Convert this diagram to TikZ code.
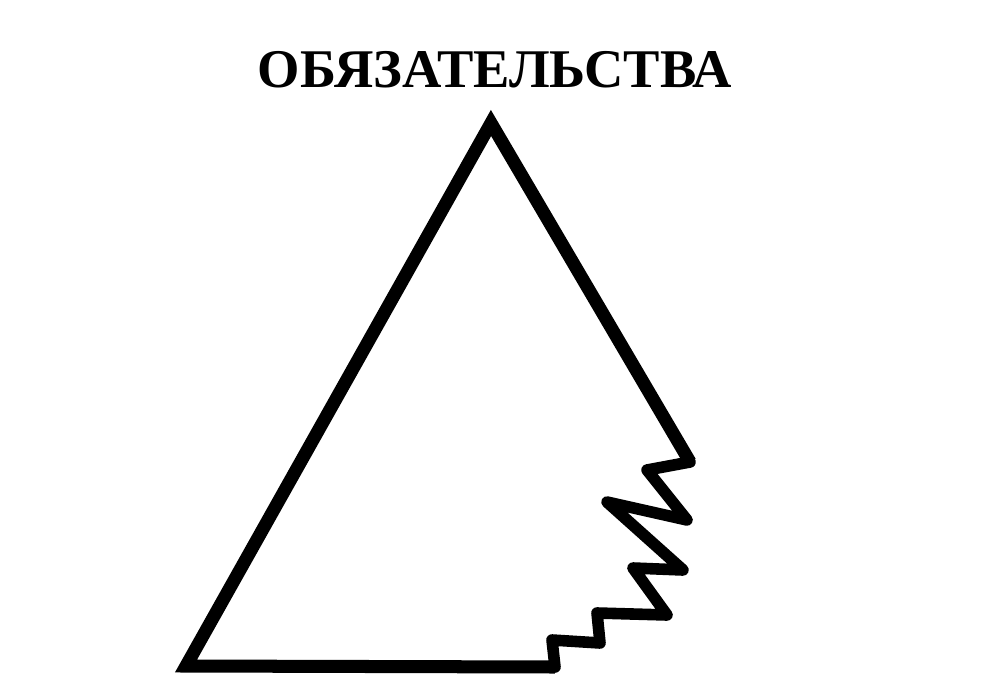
\documentclass[tikz,border=0pt]{standalone}
\usepackage{fontspec}
\setmainfont{Liberation Serif}
\begin{document}
\begin{tikzpicture}[x=0.01cm,y=-0.01cm,
  mainline/.style={line width=3.7pt,line join=miter,miter limit=10},
  zigline/.style={line width=3.3pt,line join=round,line cap=round},
  titlestyle/.style={font=\fontsize{15.5}{18}\selectfont\bfseries,inner sep=0pt}]
\useasboundingbox (0,0) rectangle (1000,700);
\node[titlestyle] (title) at (495,70) {ОБЯЗАТЕЛЬСТВА};
\coordinate (apex) at (491,123);
\coordinate (bl) at (186,666);
\coordinate (br) at (555,667);
\coordinate (rz) at (690,462);
\draw[mainline] (rz) -- (apex) -- (bl) -- (br);
\draw[zigline] (br) -- (552,640) -- (600,643) -- (597,613) -- (667,615) -- (633,568)
  -- (683,570) -- (607,502) -- (687,520) -- (647,470) -- (rz);
\end{tikzpicture}
\end{document}
